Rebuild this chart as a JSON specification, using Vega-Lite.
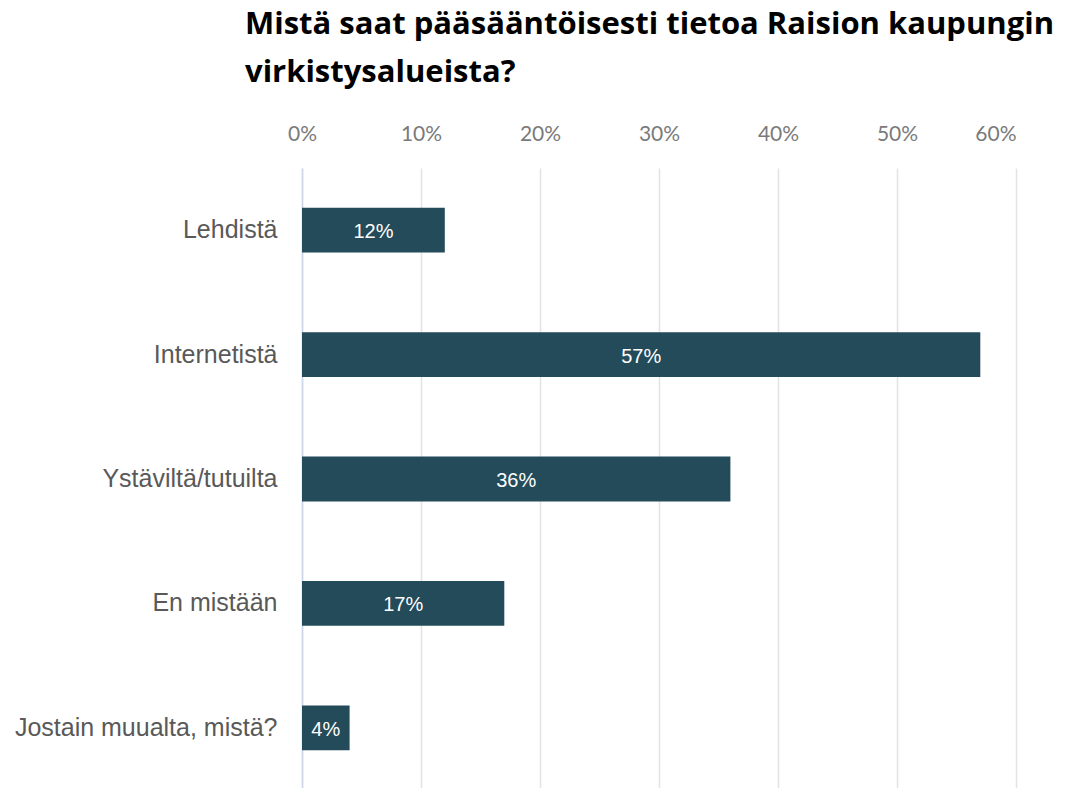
{
  "$schema": "https://vega.github.io/schema/vega-lite/v6.json",
  "width": 714,
  "height": 622,
  "autosize": "none",
  "padding": {"left": 302, "top": 168, "right": 61, "bottom": 0},
  "background": "white",
  "title": {
    "text": ["Mistä saat pääsääntöisesti tietoa Raision kaupungin", "virkistysalueista?"],
    "anchor": "start",
    "frame": "group",
    "dx": -57,
    "fontSize": 31,
    "font": "Open Sans",
    "fontWeight": "bold",
    "color": "#000000",
    "lineHeight": 48,
    "offset": 34
  },
  "data": {
    "values": [
      {"lahde": "Lehdistä", "osuus": 0.12},
      {"lahde": "Internetistä", "osuus": 0.57},
      {"lahde": "Ystäviltä/tutuilta", "osuus": 0.36},
      {"lahde": "En mistään", "osuus": 0.17},
      {"lahde": "Jostain muualta, mistä?", "osuus": 0.04}
    ]
  },
  "config": {"view": {"stroke": null}},
  "encoding": {
    "y": {
      "field": "lahde",
      "type": "nominal",
      "sort": null,
      "scale": {"paddingInner": 0.64, "paddingOuter": 0.32},
      "axis": {
        "title": null,
        "ticks": false,
        "domain": true,
        "domainColor": "#cdd6e6",
        "domainWidth": 1.5,
        "labelFont": "Liberation Sans",
        "labelFontSize": 25,
        "labelColor": "#595959",
        "labelPadding": 25,
        "labelLimit": 400
      }
    }
  },
  "layer": [
    {
      "mark": {"type": "bar", "color": "#234B59"},
      "encoding": {
        "x": {
          "field": "osuus",
          "type": "quantitative",
          "scale": {"domain": [0, 0.6], "nice": false},
          "axis": {
            "orient": "top",
            "title": null,
            "values": [0, 0.1, 0.2, 0.3, 0.4, 0.5, 0.6],
            "format": ".0%",
            "ticks": false,
            "domain": false,
            "grid": true,
            "gridColor": "#e3e3e3",
            "gridWidth": 1.5,
            "labelFlush": false,
            "labelAlign": {"expr": "datum.value >= 0.59 ? 'right' : 'center'"},
            "labelFont": "Lato",
            "labelFontSize": 21,
            "labelColor": "#7a7a7a",
            "labelPadding": 24
          }
        }
      }
    },
    {
      "transform": [{"calculate": "datum.osuus / 2", "as": "keski"}],
      "mark": {"type": "text", "color": "white", "font": "Liberation Sans", "fontSize": 20, "baseline": "middle", "align": "center", "dy": 2},
      "encoding": {
        "x": {"field": "keski", "type": "quantitative"},
        "text": {"field": "osuus", "type": "quantitative", "format": ".0%"}
      }
    }
  ]
}
